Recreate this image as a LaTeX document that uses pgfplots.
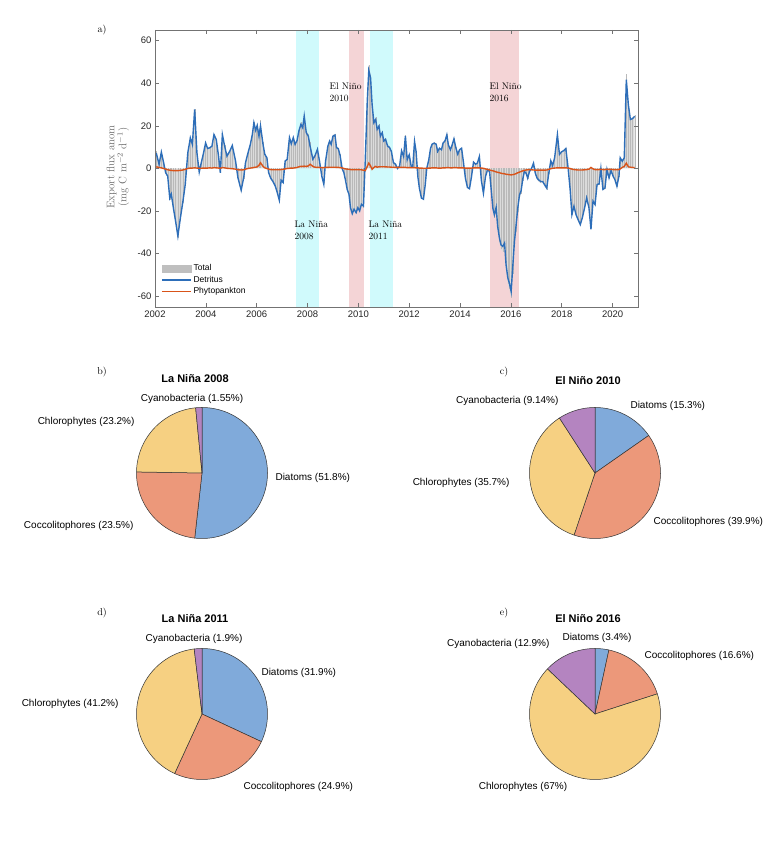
\documentclass[border=0pt]{standalone}
\usepackage{pgfplots}
\pgfplotsset{compat=1.18}
\usepackage{pgfplotstable}
\usepackage{fontspec}
\newfontfamily\hv{Liberation Sans}

\definecolor{detblue}{RGB}{45,110,185}
\definecolor{phyorg}{RGB}{217,83,25}
\definecolor{nina}{RGB}{208,250,252}
\definecolor{nino}{RGB}{244,212,214}
\definecolor{cdia}{RGB}{128,170,218}
\definecolor{ccoc}{RGB}{236,152,122}
\definecolor{cchl}{RGB}{246,208,130}
\definecolor{ccya}{RGB}{180,132,192}

% export flux anomalies: time, detritus, phytoplankton
\pgfplotstableread{
t d p
2002.05 7.3 0.8
2002.16 1.9 0.5
2002.25 7.7 0.3
2002.34 2.7 0.0
2002.42 -2.0 -0.3
2002.50 -3.6 -0.6
2002.58 -13.8 -0.8
2002.64 -12.0 -0.9
2002.73 -19.0 -1.0
2002.81 -24.7 -1.0
2002.90 -31.7 -1.0
2002.99 -23.9 -0.9
2003.10 -15.3 -0.7
2003.19 -7.5 -0.4
2003.29 7.3 0.0
2003.39 14.4 0.2
2003.47 11.3 0.2
2003.56 27.7 0.3
2003.65 7.3 0.2
2003.74 -1.7 0.1
2003.82 2.7 0.1
2003.91 7.3 0.2
2003.99 12.0 0.2
2004.07 9.4 0.2
2004.15 9.7 0.3
2004.24 10.5 0.2
2004.32 15.9 0.4
2004.41 13.6 0.3
2004.50 5.8 0.2
2004.57 -2.0 0.1
2004.65 15.9 0.4
2004.74 10.5 0.3
2004.83 5.8 0.1
2004.94 8.1 0.0
2005.04 10.8 -0.1
2005.17 3.5 -0.3
2005.26 -4.2 -0.6
2005.39 -10.2 -0.7
2005.49 -4.2 -0.6
2005.56 2.7 -0.3
2005.66 7.4 0.0
2005.75 11.3 0.2
2005.83 16.0 0.3
2005.89 21.5 0.5
2005.96 17.9 0.6
2006.02 20.2 0.8
2006.09 15.2 1.5
2006.15 19.9 2.7
2006.25 11.3 1.0
2006.32 6.6 0.3
2006.40 5.1 0.0
2006.47 -1.9 -0.3
2006.55 -4.5 -0.5
2006.64 -6.1 -0.6
2006.73 -8.2 -0.6
2006.81 -11.3 -0.6
2006.89 -14.9 -0.6
2006.96 -5.5 -0.5
2007.04 -6.6 -0.4
2007.12 3.5 -0.2
2007.20 4.3 0.0
2007.29 14.5 0.1
2007.36 11.6 0.2
2007.44 14.5 0.2
2007.51 11.3 0.3
2007.59 13.2 0.5
2007.66 17.6 0.8
2007.74 20.7 1.0
2007.81 19.1 1.0
2007.87 24.6 1.1
2007.95 16.8 1.0
2008.03 15.2 1.2
2008.10 10.5 2.0
2008.21 4.3 1.0
2008.29 5.9 0.6
2008.39 9.0 0.5
2008.47 3.5 0.5
2008.56 -3.5 0.4
2008.64 -7.4 0.4
2008.71 3.5 0.5
2008.80 10.5 0.5
2008.87 12.9 0.6
2008.93 11.3 0.6
2009.00 15.2 0.6
2009.08 15.7 0.6
2009.14 9.8 0.5
2009.21 9.3 0.5
2009.28 6.2 0.4
2009.36 0.0 0.3
2009.43 -2.0 0.0
2009.50 -5.9 -0.2
2009.56 -9.8 -0.3
2009.63 -12.1 -0.4
2009.69 -18.4 -0.5
2009.76 -21.2 -0.5
2009.83 -19.1 -0.5
2009.91 -20.7 -0.5
2009.98 -18.4 -0.5
2010.05 -19.9 -0.6
2010.12 -16.8 -0.6
2010.20 -17.6 -0.8
2010.27 3.5 -1.0
2010.35 31.6 1.0
2010.41 46.0 2.5
2010.48 42.6 1.2
2010.54 30.1 -0.4
2010.61 21.5 0.5
2010.68 23.0 1.0
2010.74 18.4 0.6
2010.81 19.9 0.8
2010.87 15.2 0.8
2010.94 16.8 0.8
2011.00 12.9 0.8
2011.07 13.7 0.8
2011.15 10.5 0.7
2011.23 9.8 0.7
2011.30 7.9 0.6
2011.38 2.7 0.6
2011.46 2.0 0.5
2011.54 0.0 0.5
2011.62 1.0 0.5
2011.70 8.3 0.5
2011.78 5.6 0.5
2011.85 15.3 0.5
2011.92 4.1 0.4
2012.00 6.4 0.4
2012.08 0.9 0.4
2012.14 0.9 0.4
2012.21 12.7 0.4
2012.27 8.0 0.3
2012.34 -3.8 0.3
2012.40 -9.2 0.2
2012.48 -13.9 0.2
2012.56 -14.4 0.1
2012.63 -7.7 0.1
2012.69 0.0 0.1
2012.77 4.1 0.2
2012.84 9.5 0.2
2012.90 11.4 0.3
2012.98 11.9 0.3
2013.06 11.4 0.3
2013.12 8.0 0.2
2013.19 9.5 0.2
2013.27 8.8 0.2
2013.33 11.9 0.3
2013.41 13.0 0.3
2013.48 15.8 0.4
2013.54 11.1 0.4
2013.62 8.8 0.3
2013.69 11.1 0.3
2013.76 13.9 0.4
2013.84 9.5 0.4
2013.91 6.7 0.3
2013.98 8.8 0.3
2014.06 9.5 0.3
2014.13 3.3 0.3
2014.21 -4.5 0.2
2014.29 -8.9 0.2
2014.37 -9.5 0.2
2014.45 -3.8 0.2
2014.53 3.0 0.3
2014.61 2.0 0.3
2014.68 2.5 0.3
2014.76 5.6 0.3
2014.84 -5.8 0.2
2014.92 -11.6 0.1
2015.00 -3.8 -0.2
2015.08 -0.6 -0.4
2015.16 -1.4 -0.7
2015.22 -9.2 -0.9
2015.29 -18.6 -1.1
2015.35 -21.7 -1.3
2015.42 -18.3 -1.6
2015.48 -27.2 -1.8
2015.55 -32.7 -2.0
2015.61 -35.8 -2.2
2015.68 -36.6 -2.4
2015.75 -35.0 -2.5
2015.81 -45.2 -2.7
2015.88 -51.4 -2.8
2015.94 -53.8 -2.9
2016.01 -57.7 -3.0
2016.07 -46.7 -2.9
2016.14 -34.2 -2.7
2016.20 -27.2 -2.4
2016.27 -18.6 -2.0
2016.34 -12.3 -1.7
2016.40 -10.5 -1.4
2016.47 -4.8 -1.1
2016.53 -1.4 -0.9
2016.60 -2.2 -0.7
2016.66 -4.5 -0.6
2016.73 -1.4 -0.6
2016.81 0.0 -0.6
2016.89 2.5 -0.7
2016.96 -2.2 -0.8
2017.03 -4.5 -0.8
2017.09 -5.3 -0.8
2017.17 -6.1 -0.8
2017.25 -6.1 -0.8
2017.33 -7.7 -0.8
2017.41 -9.2 -0.7
2017.49 -2.2 -0.4
2017.57 3.6 -0.1
2017.64 1.4 0.1
2017.72 5.0 0.2
2017.83 15.9 0.3
2017.91 6.6 0.3
2017.99 7.8 0.3
2018.08 8.4 0.3
2018.16 9.4 0.3
2018.25 0.3 0.2
2018.33 -9.8 0.0
2018.40 -21.6 -0.3
2018.48 -17.7 -0.5
2018.56 -21.6 -0.6
2018.64 -23.9 -0.7
2018.73 -26.3 -0.7
2018.81 -23.1 -0.7
2018.90 -18.4 -0.6
2018.98 -13.8 -0.5
2019.07 -18.4 -0.3
2019.15 -28.6 0.5
2019.23 -15.3 -0.2
2019.31 -16.9 -0.5
2019.39 -7.5 -0.5
2019.47 -7.2 -0.5
2019.54 0.0 -0.4
2019.62 -9.8 -0.5
2019.70 -9.1 -0.5
2019.78 -0.5 -0.4
2019.86 -4.4 -0.4
2019.94 -0.9 -0.4
2020.02 -3.6 -0.5
2020.09 -5.2 -0.5
2020.17 -8.3 -0.6
2020.25 -3.6 -0.5
2020.30 5.0 -0.2
2020.38 3.4 0.5
2020.46 5.0 1.0
2020.54 41.7 2.5
2020.62 30.0 0.8
2020.70 23.0 0.6
2020.78 23.4 0.5
2020.87 24.5 0.4
}\flux

% pie: centre x, centre y (from top), then diatoms, coccolitophores, chlorophytes, cyanobacteria (%)
\newcommand{\pie}[6]{%
  \pgfmathsetmacro\ps{#3+#4+#5+#6}%
  \pgfmathsetmacro\aB{90-360*(#3/\ps)}%
  \pgfmathsetmacro\aC{\aB-360*(#4/\ps)}%
  \pgfmathsetmacro\aD{\aC-360*(#5/\ps)}%
  \begin{axis}[at={(#1pt,857pt-#2pt)}, anchor=center, width=131pt, height=131pt,
    scale only axis, hide axis, clip=false, xmin=-1, xmax=1, ymin=-1, ymax=1]
    \addplot[fill=cdia, draw=black!80, line width=0.5pt, domain=\aB:90, samples=90] ({cos(x)},{sin(x)}) -- (axis cs:0,0) -- cycle;
    \addplot[fill=ccoc, draw=black!80, line width=0.5pt, domain=\aC:\aB, samples=90] ({cos(x)},{sin(x)}) -- (axis cs:0,0) -- cycle;
    \addplot[fill=cchl, draw=black!80, line width=0.5pt, domain=\aD:\aC, samples=90] ({cos(x)},{sin(x)}) -- (axis cs:0,0) -- cycle;
    \addplot[fill=ccya, draw=black!80, line width=0.5pt, domain=-270:\aD, samples=30] ({cos(x)},{sin(x)}) -- (axis cs:0,0) -- cycle;
  \end{axis}}

\begin{document}
\begin{tikzpicture}
\useasboundingbox (0,0) rectangle (772pt,857pt);

\begin{axis}[
  at={(155pt,550pt)}, anchor=south west,
  width=483pt, height=277pt, scale only axis,
  xmin=2002, xmax=2021, ymin=-65, ymax=65,
  xtick={2002,2004,...,2020}, ytick={-60,-40,...,60},
  tick align=inside, major tick length=4pt,
  axis on top,
  axis line style={black!55},
  tick style={black!55, line width=0.5pt},
  ticklabel style={font=\hv\fontsize{9.5}{11}\selectfont, text=black!85},
  /pgf/number format/assume math mode=true,
  /pgf/number format/1000 sep={},
  legend style={at={(0.01,0.165)}, anchor=north west, draw=none, fill=none,
    font=\hv\fontsize{8.5}{10}\selectfont, row sep=0pt, inner sep=1pt},
  legend cell align=left,
]
\addlegendimage{legend image code/.code={\fill[gray!50] (0pt,-3.5pt) rectangle (29pt,3.5pt);}}
\addlegendentry{Total}
\addlegendimage{legend image code/.code={\draw[detblue, line width=1.5pt] (0pt,0pt) -- (29pt,0pt);}}
\addlegendentry{Detritus}
\addlegendimage{legend image code/.code={\draw[phyorg, line width=1.5pt] (0pt,0pt) -- (29pt,0pt);}}
\addlegendentry{Phytopankton}

\addplot[fill=nina, draw=none, forget plot] coordinates {(2007.54,-65) (2007.54,65) (2008.45,65) (2008.45,-65)} -- cycle;
\addplot[fill=nina, draw=none, forget plot] coordinates {(2010.45,-65) (2010.45,65) (2011.36,65) (2011.36,-65)} -- cycle;
\addplot[fill=nino, draw=none, forget plot] coordinates {(2009.63,-65) (2009.63,65) (2010.22,65) (2010.22,-65)} -- cycle;
\addplot[fill=nino, draw=none, forget plot] coordinates {(2015.17,-65) (2015.17,65) (2016.31,65) (2016.31,-65)} -- cycle;

\addplot[fill=gray!28, draw=none, forget plot] table[x=t, y expr=\thisrow{d}+\thisrow{p}] {\flux}
  -- (axis cs:2020.87,0) -- (axis cs:2002.05,0) -- cycle;
\addplot[ycomb, draw=gray!55, line width=0.3pt, forget plot] table[x=t, y expr=\thisrow{d}+\thisrow{p}] {\flux};

\addplot[detblue, line width=1.4pt, forget plot] table[x=t, y=d] {\flux};
\addplot[phyorg, line width=1.4pt, forget plot] table[x=t, y=p] {\flux};
\end{axis}

\node[rotate=90, align=center, font=\fontsize{11}{12}\selectfont, text=black!60] at (118pt,690pt)
  {Export flux anom\\(mg C m$^{-2}$ d$^{-1}$)};

\begin{scope}[font=\fontsize{9.5}{12}\selectfont, align=left]
\node[anchor=west] at (326pt,765pt) {El Niño\\2010};
\node[anchor=west] at (486pt,765pt) {El Niño\\2016};
\node[anchor=west] at (291pt,627pt) {La Niña\\2008};
\node[anchor=west] at (365pt,627pt) {La Niña\\2011};
\end{scope}

\begin{scope}[font=\fontsize{10}{12}\selectfont]
\node at (102pt,827pt) {a)};
\node at (102pt,485pt) {b)};
\node at (504pt,485pt) {c)};
\node at (102pt,244pt) {d)};
\node at (504pt,244pt) {e)};
\end{scope}

\pie{202}{473}{51.8}{23.5}{23.2}{1.55}
\pie{595}{473}{15.3}{39.9}{35.7}{9.14}
\pie{202}{714}{31.9}{24.9}{41.2}{1.9}
\pie{595}{714}{3.4}{16.6}{67}{12.9}

\begin{scope}[font=\hv\bfseries\fontsize{11}{13}\selectfont]
\node at (195pt,478pt) {La Niña 2008};
\node at (588pt,476pt) {El Niño 2010};
\node at (195pt,238pt) {La Niña 2011};
\node at (588pt,238pt) {El Niño 2016};
\end{scope}

\begin{scope}[font=\hv\fontsize{10}{12}\selectfont]
% b
\node at (192pt,458pt) {Cyanobacteria (1.55\%)};
\node[anchor=west] at (272pt,379pt) {Diatoms (51.8\%)};
\node[anchor=east] at (138pt,435pt) {Chlorophytes (23.2\%)};
\node[anchor=east] at (137pt,331pt) {Coccolitophores (23.5\%)};
% c
\node[anchor=east] at (562pt,456pt) {Cyanobacteria (9.14\%)};
\node[anchor=west] at (627pt,451pt) {Diatoms (15.3\%)};
\node[anchor=east] at (513pt,374pt) {Chlorophytes (35.7\%)};
\node[anchor=west] at (650pt,335pt) {Coccolitophores (39.9\%)};
% d
\node at (194pt,218pt) {Cyanobacteria (1.9\%)};
\node[anchor=west] at (258pt,184pt) {Diatoms (31.9\%)};
\node[anchor=east] at (122pt,153pt) {Chlorophytes (41.2\%)};
\node[anchor=west] at (240pt,70pt) {Coccolitophores (24.9\%)};
% e
\node at (597pt,219pt) {Diatoms (3.4\%)};
\node[anchor=east] at (553pt,213pt) {Cyanobacteria (12.9\%)};
\node[anchor=west] at (641pt,201pt) {Coccolitophores (16.6\%)};
\node at (523pt,70pt) {Chlorophytes (67\%)};
\end{scope}
\end{tikzpicture}
\end{document}
